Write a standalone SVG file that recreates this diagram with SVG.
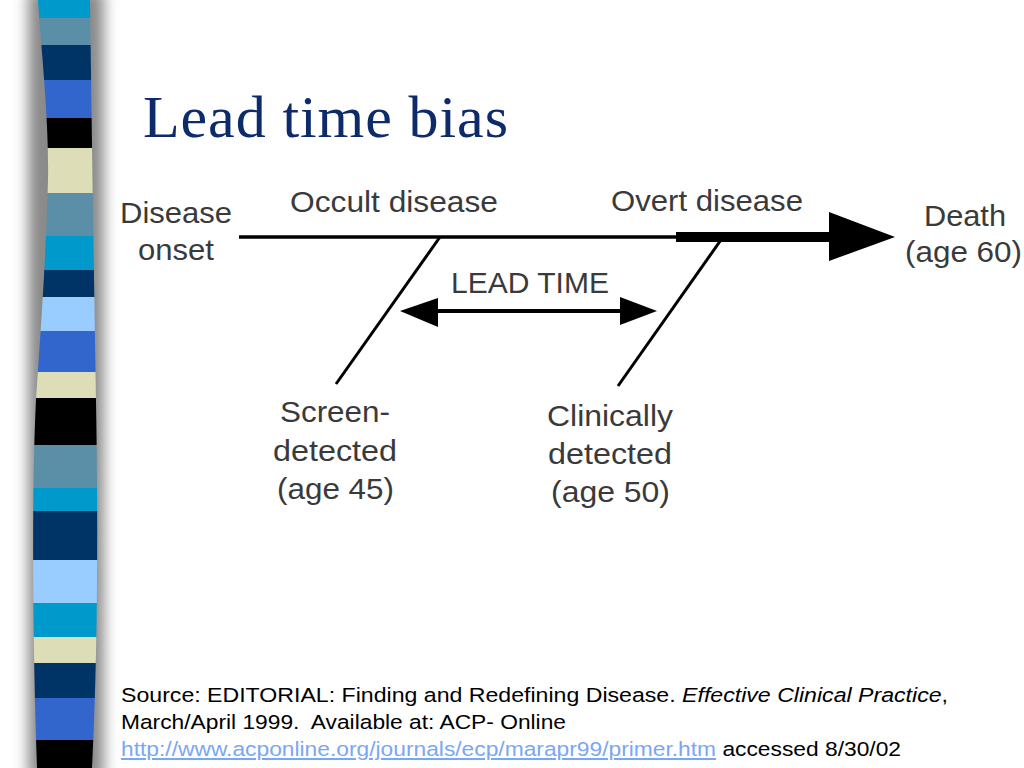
<svg xmlns="http://www.w3.org/2000/svg" width="1024" height="768" viewBox="0 0 1024 768">
<style>
.lbl{font-family:"Liberation Sans",Arial,sans-serif;font-size:29px;fill:#3a3a3a}
.src{font-family:"Liberation Sans",Arial,sans-serif;font-size:20.5px;fill:#000}
.ln{stroke:#000;fill:none}
</style>
<defs>
<filter id="blur" x="-50%" y="-5%" width="200%" height="110%"><feGaussianBlur stdDeviation="7"/></filter>
<clipPath id="barclip"><path d="M38,0 C42,60 49,120 48,180 C46,260 40,340 36,400 C32,480 32,620 37,768 L92,768 C98,650 98,520 96,400 C94,280 92,150 90,0 Z"/></clipPath>
</defs>
<rect width="1024" height="768" fill="#fff"/>
<g id="sidebar">
<rect x="28" y="-10" width="76" height="790" fill="#8a8a8a" filter="url(#blur)"/>
<g clip-path="url(#barclip)">
<rect x="0" y="0" width="120" height="18" fill="#0099cc"/>
<rect x="0" y="18" width="120" height="27" fill="#5b8fa8"/>
<rect x="0" y="45" width="120" height="35" fill="#003366"/>
<rect x="0" y="80" width="120" height="38" fill="#3366cc"/>
<rect x="0" y="118" width="120" height="30" fill="#000"/>
<rect x="0" y="148" width="120" height="45" fill="#ddddb8"/>
<rect x="0" y="193" width="120" height="43" fill="#5b8fa8"/>
<rect x="0" y="236" width="120" height="34" fill="#0099cc"/>
<rect x="0" y="270" width="120" height="27" fill="#003366"/>
<rect x="0" y="297" width="120" height="34" fill="#99ccff"/>
<rect x="0" y="331" width="120" height="41" fill="#3366cc"/>
<rect x="0" y="372" width="120" height="26" fill="#ddddb8"/>
<rect x="0" y="398" width="120" height="47" fill="#000"/>
<rect x="0" y="445" width="120" height="43" fill="#5b8fa8"/>
<rect x="0" y="488" width="120" height="23" fill="#0099cc"/>
<rect x="0" y="511" width="120" height="49" fill="#003366"/>
<rect x="0" y="560" width="120" height="43" fill="#99ccff"/>
<rect x="0" y="603" width="120" height="34" fill="#0099cc"/>
<rect x="0" y="637" width="120" height="26" fill="#ddddb8"/>
<rect x="0" y="663" width="120" height="35" fill="#003366"/>
<rect x="0" y="698" width="120" height="42" fill="#3366cc"/>
<rect x="0" y="740" width="120" height="28" fill="#000"/>
</g>
</g>
<g id="title">
<text x="143" y="137" font-family="'Liberation Serif','Times New Roman',serif" font-size="60" fill="#0d2b6b" textLength="365">Lead time bias</text>
</g>
<g id="connectors">
<line class="ln" x1="239" y1="237" x2="680" y2="237" stroke-width="3.5"/>
<line class="ln" x1="676" y1="237" x2="832" y2="237" stroke-width="10"/>
<polygon points="829,212 895,237 829,261" fill="#000"/>
<line class="ln" x1="440" y1="237" x2="336" y2="384" stroke-width="3"/>
<line class="ln" x1="723" y1="237" x2="618" y2="386" stroke-width="3"/>
<line class="ln" x1="430" y1="311" x2="625" y2="311" stroke-width="4"/>
<polygon points="400,311 438,298 438,327" fill="#000"/>
<polygon points="657,311 620,297 620,325" fill="#000"/>
</g>
<g id="onset"><text class="lbl" x="120" y="223" textLength="112" lengthAdjust="spacingAndGlyphs">Disease</text><text class="lbl" x="138" y="260" textLength="76" lengthAdjust="spacingAndGlyphs">onset</text></g>
<g id="occult"><text class="lbl" x="290" y="212" textLength="208" lengthAdjust="spacingAndGlyphs">Occult disease</text></g>
<g id="overt"><text class="lbl" x="611" y="211" textLength="192" lengthAdjust="spacingAndGlyphs">Overt disease</text></g>
<g id="death"><text class="lbl" x="924" y="226" textLength="82" lengthAdjust="spacingAndGlyphs">Death</text><text class="lbl" x="905" y="262" textLength="117" lengthAdjust="spacingAndGlyphs">(age 60)</text></g>
<g id="leadtime"><text class="lbl" x="451" y="293" textLength="158" lengthAdjust="spacingAndGlyphs">LEAD TIME</text></g>
<g id="screen"><text class="lbl" x="280" y="422" textLength="110" lengthAdjust="spacingAndGlyphs">Screen-</text><text class="lbl" x="273" y="461" textLength="124" lengthAdjust="spacingAndGlyphs">detected</text><text class="lbl" x="277" y="499" textLength="117" lengthAdjust="spacingAndGlyphs">(age 45)</text></g>
<g id="clinical"><text class="lbl" x="547" y="426" textLength="126" lengthAdjust="spacingAndGlyphs">Clinically</text><text class="lbl" x="548" y="464" textLength="124" lengthAdjust="spacingAndGlyphs">detected</text><text class="lbl" x="551" y="502" textLength="119" lengthAdjust="spacingAndGlyphs">(age 50)</text></g>
<g id="source">
<text class="src" x="121" y="702" textLength="827" lengthAdjust="spacingAndGlyphs">Source: EDITORIAL: Finding and Redefining Disease. <tspan font-style="italic">Effective Clinical Practice</tspan>,</text>
<text class="src" x="121" y="729" xml:space="preserve" textLength="445" lengthAdjust="spacingAndGlyphs">March/April 1999.  Available at: ACP- Online</text>
<text class="src" x="121" y="756" textLength="780" lengthAdjust="spacingAndGlyphs"><tspan fill="#7aa7f5" text-decoration="underline">http://www.acponline.org/journals/ecp/marapr99/primer.htm</tspan> accessed 8/30/02</text>
</g>
</svg>
